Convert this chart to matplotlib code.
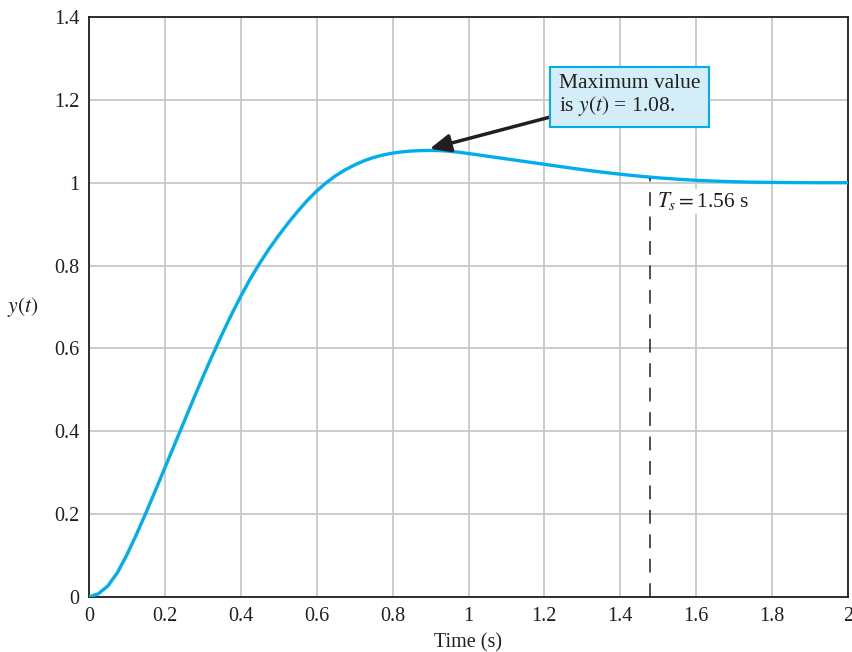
import matplotlib
matplotlib.use("Agg")
import matplotlib.pyplot as plt
from matplotlib.ticker import FixedLocator

plt.rcParams['font.family'] = ['Liberation Serif', 'DejaVu Serif']
plt.rcParams['mathtext.fontset'] = 'stix'

# Data
t = [0, 0.025, 0.05, 0.075, 0.1, 0.125, 0.15, 0.175, 0.2, 0.225, 0.25, 0.275, 0.3,
     0.325, 0.35, 0.375, 0.4, 0.425, 0.45, 0.475, 0.5, 0.525, 0.55, 0.575, 0.6,
     0.625, 0.65, 0.675, 0.7, 0.725, 0.75, 0.775, 0.8, 0.825, 0.85, 0.875, 0.9,
     0.925, 0.95, 0.975, 1.0, 1.05, 1.1, 1.15, 1.2, 1.25, 1.3, 1.35, 1.4,
     1.45, 1.5, 1.55, 1.6, 1.65, 1.7, 1.75, 1.8, 1.85, 1.9, 1.95, 2.0]
y = [0, 0.008, 0.027, 0.059, 0.102, 0.151, 0.203, 0.257, 0.312, 0.367, 0.422, 0.477, 0.531,
     0.583, 0.633, 0.681, 0.726, 0.768, 0.806, 0.841, 0.873, 0.903, 0.931, 0.957, 0.980,
     1.000, 1.017, 1.031, 1.043, 1.053, 1.061, 1.067, 1.0715, 1.0745, 1.0765, 1.0775, 1.078,
     1.0775, 1.076, 1.0735, 1.0705, 1.064, 1.0575, 1.051, 1.0445, 1.038, 1.0315, 1.0258, 1.0205,
     1.0158, 1.0118, 1.0085, 1.0058, 1.0038, 1.0023, 1.0013, 1.0007, 1.0003, 1.0001, 1.0, 1.0]

x_ticks = [0, 0.2, 0.4, 0.6, 0.8, 1.0, 1.2, 1.4, 1.6, 1.8, 2.0]
x_ticklabels = ["0", "0.2", "0.4", "0.6", "0.8", "1", "1.2", "1.4", "1.6", "1.8", "2"]
y_ticks = [0, 0.2, 0.4, 0.6, 0.8, 1.0, 1.2, 1.4]
y_ticklabels = ["0", "0.2", "0.4", "0.6", "0.8", "1", "1.2", "1.4"]

ts_value = 1.478
ts_top = 1.012
peak_t = 0.898
peak_y = 1.082

fig = plt.figure(figsize=(8.52, 6.52), dpi=100)
ax = fig.add_axes([89/852, 55/652, (848-89)/852, (597-17)/652])

ax.plot(t, y, color='#00aeef', lw=2.4, zorder=3, solid_capstyle='round',
        solid_joinstyle='round')

ax.set_xlim(0, 2)
ax.set_ylim(0, 1.4)
ax.xaxis.set_major_locator(FixedLocator(x_ticks))
ax.yaxis.set_major_locator(FixedLocator(y_ticks))
ax.set_xticklabels(x_ticklabels)
ax.set_yticklabels(y_ticklabels)
ax.tick_params(length=0, labelsize=14.5, colors='#231f20', pad=7)
ax.grid(True, color='#c8c8c8', lw=1.3)
ax.set_axisbelow(True)
for s in ax.spines.values():
    s.set_color('#231f20')
    s.set_linewidth(1.3)

ax.set_xlabel('Time (s)', fontsize=14.5, color='#231f20', labelpad=5.5)
ax.set_ylabel('$y(t)$', fontsize=15.5, color='#231f20', rotation=0,
              va='center', ha='center')
ax.yaxis.set_label_coords(-0.087, 0.5)

# Settling-time dashed line
ax.plot([ts_value, ts_value], [0, ts_top], color='#231f20', lw=1.1,
        dashes=(9, 7), zorder=4)
ax.text(ts_value + 0.02, 0.955, r'$T_s = $1.56 s', fontsize=15.5, color='#231f20',
        va='center', ha='left', zorder=5,
        bbox=dict(facecolor='white', edgecolor='none', pad=1))

# Annotation
ax.annotate('Maximum value\nis $y(t)$ = 1.08.', xy=(peak_t, peak_y), xytext=(1.238, 1.209),
            fontsize=15.5, color='#231f20', ha='left', va='center', linespacing=1.1,
            bbox=dict(boxstyle='square,pad=0.4', facecolor='#d4eef9', edgecolor='#00aeef', lw=1.5),
            arrowprops=dict(arrowstyle='-|>,head_length=0.8,head_width=0.35', color='#231f20', lw=2.5,
                            shrinkA=0, shrinkB=0),
            zorder=6)

fig.savefig('out.png', dpi=100)
